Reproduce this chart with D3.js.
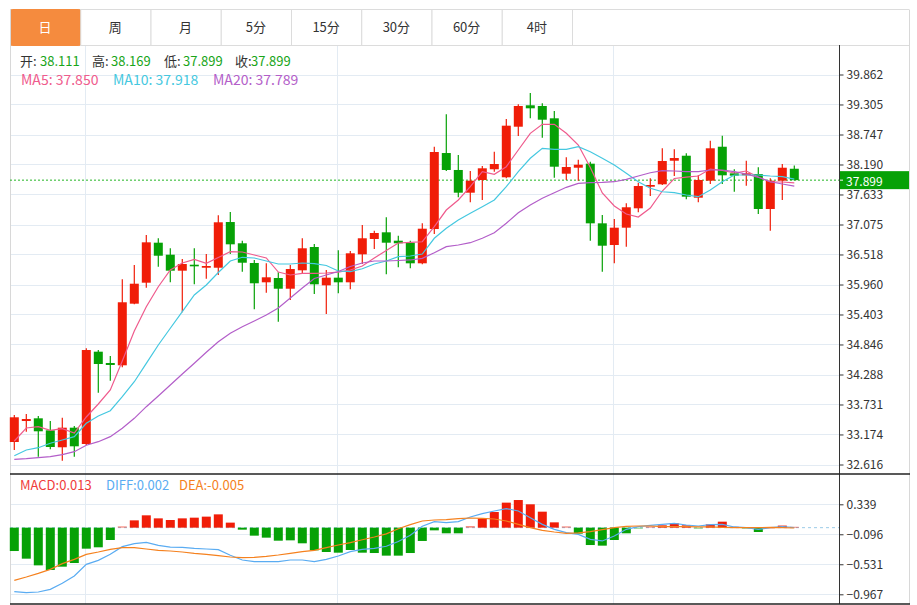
<!DOCTYPE html>
<html>
<head>
<meta charset="utf-8">
<script src="https://cdn.jsdelivr.net/npm/d3@7"></script>
<style>
body { margin: 0; background: #fff; }
svg { display: block; font-family: "Microsoft YaHei", "Noto Sans CJK SC", sans-serif; }
</style>
</head>
<body>
<div id="chart"></div>
<script>
// tabs
var tabs = ['日', '周', '月', '5分', '15分', '30分', '60分', '4时'];

// daily candles (oldest -> newest)
var open = [33.034,33.424,33.474,33.251,32.936,33.300,32.997,34.712,34.502,34.459,
  35.604,35.994,36.737,36.514,36.217,36.328,36.272,36.272,37.121,36.726,
  36.360,36.001,36.081,35.882,36.224,36.657,35.945,36.087,36.001,36.521,
  36.806,36.930,36.774,36.737,36.354,36.991,38.403,38.088,37.666,37.902,
  38.101,37.952,38.892,39.290,39.277,39.048,38.019,38.130,38.205,37.097,
  36.694,37.016,37.376,37.777,37.822,38.260,38.353,37.573,37.889,38.520,
  38.026,37.989,38.013,37.363,37.889,38.111];
var high = [33.536,33.554,33.517,33.424,33.486,33.331,34.775,34.743,34.632,36.057,
  36.323,36.880,36.819,36.633,36.434,36.633,36.527,37.246,37.307,36.774,
  36.415,36.354,36.187,36.323,36.819,36.713,36.230,36.596,36.583,37.066,
  36.960,37.209,36.867,36.774,37.097,38.520,39.122,38.366,38.069,38.162,
  38.428,39.035,39.308,39.518,39.327,39.184,38.324,38.279,38.242,37.252,
  37.177,37.469,37.852,37.933,38.491,38.472,38.398,37.995,38.632,38.725,
  38.101,38.260,38.138,37.933,38.199,38.169];
var low = [32.885,33.225,32.761,32.898,32.687,32.761,32.978,33.950,34.173,34.422,
  35.592,35.901,36.291,36.001,35.444,35.964,36.068,36.137,36.527,36.198,
  35.499,35.808,35.269,35.672,36.174,35.784,35.412,35.797,35.871,36.341,
  36.620,36.150,36.280,36.261,36.336,36.898,38.069,37.580,37.487,37.530,
  38.056,37.933,38.719,39.048,38.688,37.945,37.902,37.889,36.774,36.198,
  36.354,36.663,37.302,37.604,37.809,37.976,37.543,37.487,37.827,37.827,
  37.684,37.796,37.270,36.960,37.530,37.899];
var close = [33.493,33.461,33.233,32.941,33.300,32.954,34.743,34.483,34.465,35.630,
  35.975,36.744,36.495,36.217,36.341,36.298,36.304,37.116,36.707,36.365,
  35.983,36.094,35.882,36.248,36.633,35.964,36.087,36.001,36.540,36.819,
  36.917,36.737,36.726,36.354,36.997,38.422,38.088,37.666,37.889,38.119,
  38.199,38.911,39.277,39.234,39.022,38.149,38.143,38.186,37.097,36.681,
  37.016,37.395,37.790,37.809,38.255,38.310,37.592,37.902,38.491,37.989,
  37.982,38.026,37.363,37.889,38.130,37.899];

// moving averages as drawn
var ma5 = [33.053,33.294,33.318,33.251,33.281,33.201,33.499,33.740,34.000,34.539,
  35.096,35.548,35.919,36.230,36.360,36.428,36.354,36.462,36.570,36.564,
  36.508,36.453,36.192,36.137,36.168,36.168,36.174,36.192,36.230,36.304,
  36.453,36.592,36.731,36.744,36.755,37.034,37.344,37.530,37.777,38.056,
  38.008,38.149,38.459,38.769,38.937,38.937,38.769,38.552,38.134,37.660,
  37.419,37.270,37.214,37.382,37.697,37.930,37.957,37.976,38.106,38.078,
  38.032,38.069,37.957,37.865,37.865,37.850];
var ma10 = [32.779,32.885,32.928,33.010,33.071,33.133,33.381,33.517,33.616,33.876,
  34.154,34.496,34.836,35.147,35.455,35.765,35.951,36.183,36.397,36.466,
  36.453,36.397,36.341,36.341,36.360,36.347,36.313,36.211,36.198,36.252,
  36.341,36.397,36.477,36.490,36.527,36.819,37.004,37.159,37.283,37.406,
  37.530,37.777,38.056,38.305,38.491,38.472,38.472,38.520,38.428,38.305,
  38.180,38.026,37.870,37.748,37.684,37.666,37.623,37.592,37.716,37.870,
  37.995,37.995,37.995,37.976,37.963,37.918];
var ma20 = [32.713,32.724,32.742,32.761,32.798,32.854,32.973,33.040,33.133,33.289,
  33.474,33.690,33.889,34.093,34.297,34.496,34.701,34.898,35.054,35.176,
  35.282,35.394,35.524,35.709,35.895,36.072,36.137,36.202,36.295,36.360,
  36.397,36.397,36.406,36.416,36.447,36.551,36.663,36.694,36.737,36.819,
  36.923,37.097,37.294,37.437,37.562,37.666,37.766,37.840,37.852,37.856,
  37.870,37.915,37.976,38.037,38.075,38.069,38.056,38.056,38.088,38.088,
  38.056,38.013,37.952,37.870,37.827,37.789];

// MACD panel
var macd = [-0.339,-0.450,-0.547,-0.614,-0.566,-0.513,-0.305,-0.285,-0.179,0.019,
  0.106,0.179,0.135,0.111,0.135,0.145,0.160,0.193,0.073,-0.029,
  -0.116,-0.145,-0.189,-0.184,-0.227,-0.329,-0.353,-0.363,-0.324,-0.363,
  -0.368,-0.406,-0.406,-0.368,-0.193,-0.039,-0.082,-0.082,0.024,0.131,
  0.227,0.363,0.401,0.339,0.232,0.077,0.019,-0.087,-0.252,-0.261,
  -0.179,-0.082,-0.015,0.019,0.034,0.063,0.034,-0.015,0.048,0.087,
  0.015,-0.005,-0.063,0.005,0.030,0.013];
var diff = [-0.929,-0.943,-0.934,-0.895,-0.808,-0.701,-0.532,-0.474,-0.387,-0.276,
  -0.232,-0.213,-0.256,-0.281,-0.285,-0.300,-0.310,-0.319,-0.401,-0.469,
  -0.493,-0.493,-0.493,-0.469,-0.469,-0.493,-0.460,-0.411,-0.348,-0.314,
  -0.300,-0.270,-0.200,-0.110,0.020,0.087,0.073,0.087,0.155,0.203,
  0.242,0.276,0.242,0.145,0.048,-0.024,-0.073,-0.097,-0.169,-0.193,
  -0.121,-0.024,0.015,0.034,0.048,0.063,0.039,0.024,0.044,0.048,
  0.010,0.000,-0.024,0.000,0.015,0.002];
var dea = [-0.764,-0.716,-0.663,-0.605,-0.522,-0.460,-0.387,-0.353,-0.314,-0.290,
  -0.290,-0.310,-0.329,-0.339,-0.353,-0.372,-0.387,-0.406,-0.426,-0.435,
  -0.430,-0.416,-0.397,-0.372,-0.348,-0.329,-0.290,-0.252,-0.218,-0.175,
  -0.135,-0.090,-0.015,0.045,0.097,0.111,0.116,0.131,0.140,0.135,
  0.126,0.097,0.048,0.000,-0.039,-0.063,-0.082,-0.077,-0.058,-0.029,
  0.000,0.019,0.024,0.024,0.015,0.015,0.015,0.010,0.010,0.005,
  0.000,0.000,0.000,0.005,0.000,-0.005];

var priceTicks = [39.862,39.305,38.747,38.190,37.633,37.075,36.518,35.960,35.403,34.846,34.288,33.731,33.174,32.616];
var macdTicks = [0.339,-0.096,-0.531,-0.967];
var monthStarts = [6, 27, 50];   // vertical grid lines

var RED = '#f01d08', GREEN = '#06a106';
var C_MA5 = '#ef5b8d', C_MA10 = '#45c8e0', C_MA20 = '#b35ec9';
var C_DIFF = '#5aacf2', C_DEA = '#f5811e';

window.onload = function () {
  var W = 917, H = 605;
  var left = 10, right = 909, axisX = 839;
  var n = close.length;
  var last = n - 1;

  var svg = d3.select('#chart').append('svg').attr('width', W).attr('height', H);

  var x = d3.scaleLinear().domain([0, n - 1]).range([14.3, 794.3]);
  var y = d3.scaleLinear().domain([32.616, 39.862]).range([464.5, 74.5]);
  var ym = d3.scaleLinear().domain([-0.967, 0.339]).range([594.3, 504.3]);

  // grid lines
  var grid = svg.append('g').attr('stroke', '#e3ebf3').attr('stroke-width', 1);
  grid.selectAll('.hg').data(priceTicks).enter().append('line')
    .attr('x1', left).attr('x2', axisX).attr('y1', d => Math.round(y(d)) + 0.5).attr('y2', d => Math.round(y(d)) + 0.5);
  grid.selectAll('.mg').data(macdTicks).enter().append('line')
    .attr('x1', left).attr('x2', axisX).attr('y1', d => Math.round(ym(d)) + 0.5).attr('y2', d => Math.round(ym(d)) + 0.5);
  grid.selectAll('.vg').data(monthStarts).enter().append('line')
    .attr('x1', d => Math.round(x(d)) - 0.5).attr('x2', d => Math.round(x(d)) - 0.5).attr('y1', 45).attr('y2', 604);

  // tabs
  var tabW = (572 - left) / tabs.length;
  var tabG = svg.append('g');
  tabG.append('line').attr('x1', left).attr('x2', right).attr('y1', 9.5).attr('y2', 9.5).attr('stroke', '#dcdcdc');
  tabG.append('line').attr('x1', left).attr('x2', right).attr('y1', 45.5).attr('y2', 45.5).attr('stroke', '#dcdcdc');
  tabG.selectAll('rect').data(tabs).enter().append('rect')
    .attr('x', (d, i) => left + i * tabW + 0.5).attr('y', 9.5)
    .attr('width', tabW).attr('height', 36)
    .attr('rx', (d, i) => i === 0 ? 2 : 0)
    .attr('fill', (d, i) => i === 0 ? '#f58b3e' : '#fff')
    .attr('stroke', (d, i) => i === 0 ? '#f58b3e' : '#dcdcdc');
  tabG.selectAll('text').data(tabs).enter().append('text')
    .attr('x', (d, i) => left + i * tabW + tabW / 2).attr('y', 28)
    .attr('text-anchor', 'middle').attr('dominant-baseline', 'middle')
    .attr('font-size', 13).attr('fill', (d, i) => i === 0 ? '#fff' : '#333')
    .text(d => d);

  // frame
  svg.append('line').attr('x1', left + 0.5).attr('x2', left + 0.5).attr('y1', 9.5).attr('y2', 604).attr('stroke', '#d8d8d8');
  svg.append('line').attr('x1', right + 0.5).attr('x2', right + 0.5).attr('y1', 9.5).attr('y2', 604).attr('stroke', '#d8d8d8');

  // info rows
  var info = svg.append('g').attr('font-size', 13);
  var ohlc = [['开:', 20, 40, open[last]], ['高:', 92, 111, high[last]], ['低:', 164, 183, low[last]], ['收:', 235, 251, close[last]]];
  ohlc.forEach(function (d) {
    info.append('text').attr('x', d[1]).attr('y', 66).attr('fill', '#333').text(d[0]);
    info.append('text').attr('x', d[2]).attr('y', 66).attr('fill', '#19a519').text(d[3].toFixed(3));
  });
  var maInfo = [['MA5: ', 21, ma5[last], C_MA5], ['MA10: ', 113, ma10[last], C_MA10], ['MA20: ', 213, ma20[last], C_MA20]];
  maInfo.forEach(function (d) {
    info.append('text').attr('x', d[1]).attr('y', 85).attr('font-size', 14).attr('fill', d[3]).text(d[0] + d[2].toFixed(3));
  });

  // current price dotted line
  svg.append('line').attr('x1', left).attr('x2', axisX)
    .attr('y1', y(close[last])).attr('y2', y(close[last]))
    .attr('stroke', '#22b422').attr('stroke-dasharray', '2,2');

  // candles
  var idx = d3.range(n);
  var cg = svg.append('g');
  cg.selectAll('line').data(idx).enter().append('line')
    .attr('x1', i => x(i)).attr('x2', i => x(i))
    .attr('y1', i => y(high[i])).attr('y2', i => y(low[i]))
    .attr('stroke', i => close[i] >= open[i] ? RED : GREEN).attr('stroke-width', 1.2);
  cg.selectAll('rect').data(idx).enter().append('rect')
    .attr('x', i => x(i) - 4.5).attr('width', 9)
    .attr('y', i => y(Math.max(open[i], close[i])))
    .attr('height', i => Math.max(1.5, Math.abs(y(open[i]) - y(close[i]))))
    .attr('fill', i => close[i] >= open[i] ? RED : GREEN);

  // MA lines
  var line = d3.line().x((d, i) => x(i)).y(d => y(d));
  [[ma5, C_MA5], [ma10, C_MA10], [ma20, C_MA20]].forEach(function (s) {
    svg.append('path').datum(s[0]).attr('d', line).attr('fill', 'none').attr('stroke', s[1]).attr('stroke-width', 1.2);
  });

  // price axis
  var yAxis = d3.axisRight(y).tickValues(priceTicks).tickFormat(d3.format('.3f')).tickSize(4).tickPadding(3);
  var ya = svg.append('g').attr('transform', `translate(${axisX + 0.5},0)`).call(yAxis);
  ya.select('.domain').remove();
  ya.selectAll('line').attr('stroke', '#333');
  ya.selectAll('text').attr('fill', '#333').attr('font-size', 12).attr('font-family', '"Microsoft YaHei","Noto Sans CJK SC",sans-serif');
  svg.append('line').attr('x1', axisX + 0.5).attr('x2', axisX + 0.5).attr('y1', 45).attr('y2', 604).attr('stroke', '#333');

  // current price tag
  var py = y(close[last]);
  svg.append('rect').attr('x', axisX + 1).attr('y', py - 9).attr('width', right - axisX - 1).attr('height', 18).attr('fill', '#06a106');
  svg.append('line').attr('x1', axisX + 1).attr('x2', axisX + 4).attr('y1', py).attr('y2', py).attr('stroke', '#fff');
  svg.append('text').attr('x', axisX + 7).attr('y', py).attr('dominant-baseline', 'central')
    .attr('fill', '#fff').attr('font-size', 12).text(close[last].toFixed(3));

  // MACD panel borders
  svg.append('line').attr('x1', left).attr('x2', right + 1).attr('y1', 474).attr('y2', 474).attr('stroke', '#222').attr('stroke-width', 1.5);
  svg.append('line').attr('x1', left).attr('x2', right + 1).attr('y1', 604).attr('y2', 604).attr('stroke', '#222').attr('stroke-width', 1.5);

  // zero line
  svg.append('line').attr('x1', left).attr('x2', axisX).attr('y1', ym(0)).attr('y2', ym(0))
    .attr('stroke', '#9ccbe8').attr('stroke-dasharray', '3,3');

  // histogram
  svg.append('g').selectAll('rect').data(idx).enter().append('rect')
    .attr('x', i => x(i) - 4.5).attr('width', 9)
    .attr('y', i => Math.min(ym(0), ym(macd[i])))
    .attr('height', i => Math.max(1, Math.abs(ym(macd[i]) - ym(0))))
    .attr('fill', i => macd[i] >= 0 ? RED : GREEN)
    .attr('opacity', i => Math.abs(macd[i]) < 0.025 ? 0.5 : 1);

  var mline = d3.line().x((d, i) => x(i)).y(d => ym(d));
  svg.append('path').datum(diff).attr('d', mline).attr('fill', 'none').attr('stroke', C_DIFF).attr('stroke-width', 1.2);
  svg.append('path').datum(dea).attr('d', mline).attr('fill', 'none').attr('stroke', C_DEA).attr('stroke-width', 1.2);

  var mAxis = d3.axisRight(ym).tickValues(macdTicks).tickFormat(d3.format('.3f')).tickSize(4).tickPadding(3);
  var ma = svg.append('g').attr('transform', `translate(${axisX + 0.5},0)`).call(mAxis);
  ma.select('.domain').remove();
  ma.selectAll('line').attr('stroke', '#333');
  ma.selectAll('text').attr('fill', '#333').attr('font-size', 12).attr('font-family', '"Microsoft YaHei","Noto Sans CJK SC",sans-serif');

  // MACD legend
  var ml = svg.append('g').attr('font-size', 13);
  ml.append('text').attr('x', 20).attr('y', 490).attr('fill', '#ef3b3b').text('MACD:' + macd[last].toFixed(3));
  ml.append('text').attr('x', 106).attr('y', 490).attr('fill', C_DIFF).text('DIFF:' + diff[last].toFixed(3));
  ml.append('text').attr('x', 179).attr('y', 490).attr('fill', C_DEA).text('DEA:' + dea[last].toFixed(3));
};
</script>
</body>
</html>
